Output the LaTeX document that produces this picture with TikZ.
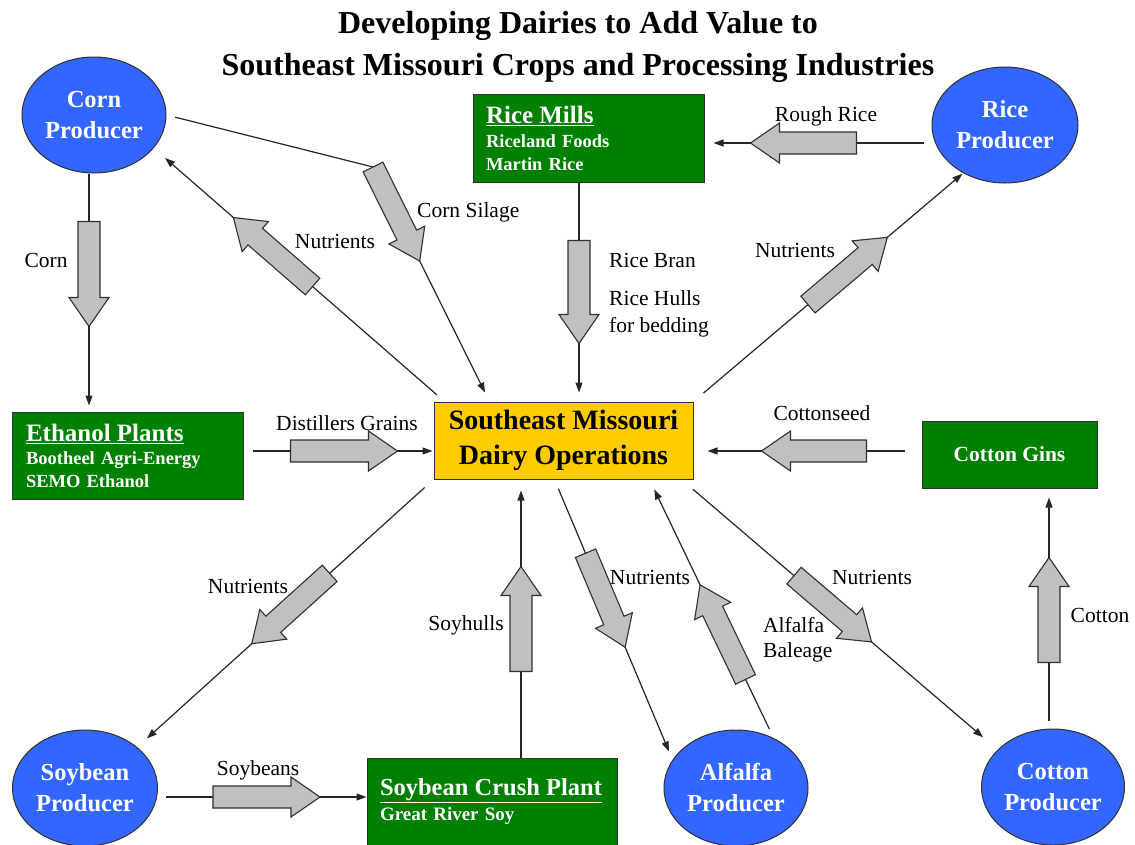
\documentclass[tikz,border=0pt]{standalone}
\usepackage{fontspec}
\setmainfont{Liberation Serif}
\usetikzlibrary{calc,arrows.meta,shapes.geometric}
\definecolor{ellblue}{HTML}{3366FF}
\definecolor{boxgreen}{HTML}{008000}
\definecolor{dairyyel}{HTML}{FFCC00}
\definecolor{arrgray}{HTML}{C0C0C0}
\definecolor{edge}{HTML}{303030}
\newcommand{\myblk}[4]{%
  \coordinate (bt) at ($(#1)!#3!(#2)$);
  \coordinate (bh) at ($(#1)!#4!(#2)$);
  \coordinate (bn) at ($(bh)!29pt!(bt)$);
  \path[blockarrow] ($(bt)!11pt!90:(bh)$) -- ($(bn)!11pt!90:(bh)$) -- ($(bn)!20pt!90:(bh)$) -- (bh)
     -- ($(bn)!20pt!-90:(bh)$) -- ($(bn)!11pt!-90:(bh)$) -- ($(bt)!11pt!-90:(bh)$) -- cycle;
}
\begin{document}
\begin{tikzpicture}[x=1pt,y=-1pt,
  producer/.style={ellipse, draw=edge, line width=1pt, fill=ellblue, inner sep=0pt,
    minimum width=144pt, minimum height=116pt, text=white, align=center,
    font={\fontsize{24.5}{31}\selectfont\bfseries}},
  gbox/.style={rectangle, draw=edge, line width=1pt, fill=boxgreen, text=white,
    align=left, font={\fontsize{18.5}{23}\selectfont\bfseries}},
  conn/.style={draw=black!85, line width=1.2pt, -{Triangle[length=10pt,width=7pt]}},
  blockarrow/.style={fill=arrgray, draw=edge, line width=1.1pt, line join=miter},
  lbl/.style={inner sep=0pt, font={\fontsize{21.5}{27}\selectfont}}]
\fill[white] (0,0) rectangle (1135,844);
\useasboundingbox (0,0) rectangle (1135,844);

% title
\node[align=center, font={\fontsize{32}{42}\selectfont\bfseries}] (title) at (578,47)
  {Developing Dairies to Add Value to\\Southeast Missouri Crops and Processing Industries};

% producers
\node[producer] (corn) at (94,115) {Corn\\Producer};
\node[producer, minimum width=146pt] (ricep) at (1005,125) {Rice\\Producer};
\node[producer, minimum width=145pt] (soyp) at (85,788) {Soybean\\Producer};
\node[producer] (alfp) at (736,788) {Alfalfa\\Producer};
\node[producer, minimum width=143pt] (cotp) at (1053,787) {Cotton\\Producer};

% boxes
\node[gbox, minimum height=88pt, inner xsep=13pt, text width=205pt] (mills) at (588.5,138)
  {{\fontsize{25}{25}\selectfont\underline{Rice Mills}}\\[1pt]Riceland Foods\\Martin Rice};
\node[gbox, minimum height=87pt, inner xsep=14pt, text width=203pt] (eth) at (127.5,455.5)
  {{\fontsize{25}{25}\selectfont\underline{Ethanol Plants}}\\[0pt]Bootheel Agri-Energy\\SEMO Ethanol};
\node[gbox, minimum height=88pt, inner xsep=13pt, text width=224pt] (crush) at (492,802)
  {{\fontsize{24.5}{25}\selectfont\underline{Soybean Crush Plant}}\\[2pt]{\fontsize{19}{23}\selectfont Great River Soy}};
\node[gbox, minimum width=175pt, minimum height=67pt, align=center,
  font={\fontsize{21.5}{25}\selectfont\bfseries}] (gins) at (1009.5,454.5) {Cotton Gins};
\node[rectangle, draw=edge, line width=1pt, fill=dairyyel, minimum width=259pt, minimum height=77pt,
  inner sep=0pt, align=center, font={\fontsize{28}{35}\selectfont\bfseries}] (dairy) at (563.5,440.5)
  {Southeast Missouri\\Dairy Operations};

% C1 corn -> ethanol
\coordinate (c1s) at ([xshift=-5pt]corn.south);
\coordinate (c1e) at (c1s |- eth.north);
\draw[conn, shorten >=6pt] (c1s) -- (c1e);
\myblk{c1s}{c1e}{48pt}{153pt}

% C2 corn silage
\coordinate (c2b) at (373,167);
\coordinate (c2e) at ([xshift=56pt]dairy.north west);
\draw[conn, shorten <=9pt, shorten >=10pt] (corn.east) -- (c2b) -- (c2e);
\myblk{c2b}{c2e}{0pt}{105pt}

% C3 nutrients to corn
\coordinate (c3s) at ([xshift=11pt]dairy.north west);
\draw[conn, shorten <=10pt, shorten >=15pt] (c3s) -- (corn.-29);
\myblk{c3s}{corn.-29}{175pt}{280pt}

% C4 rice mills -> dairy
\coordinate (c4s) at ([xshift=-9.5pt]mills.south);
\coordinate (c4e) at (c4s |- dairy.north);
\draw[conn, shorten >=9pt] (c4s) -- (c4e);
\myblk{c4s}{c4e}{58pt}{161pt}

% C5 rice producer -> mills
\coordinate (c5s) at ([yshift=-18pt]ricep.west);
\coordinate (c5e) at (c5s -| mills.east);
\draw[conn, shorten <=8pt, shorten >=9pt] (c5s) -- (c5e);
\myblk{c5s}{c5e}{75pt}{181pt}

% C6 nutrients to rice producer
\draw[conn, shorten <=13pt, shorten >=1pt] (dairy.north east) -- (ricep.-131);
\myblk{dairy.north east}{ricep.-131}{150pt}{254pt}

% C7 ethanol -> dairy
\coordinate (c7s) at ([yshift=4.5pt]eth.east);
\coordinate (c7e) at (c7s -| dairy.west);
\draw[conn, shorten <=9pt, shorten >=1pt] (c7s) -- (c7e);
\myblk{c7s}{c7e}{47pt}{154pt}

% C8 gins -> dairy
\coordinate (c8s) at ([yshift=3.5pt]gins.west);
\coordinate (c8e) at (c8s -| dairy.east);
\draw[conn, shorten <=17pt, shorten >=14pt] (c8s) -- (c8e);
\myblk{c8s}{c8e}{55pt}{160pt}

% C9 cotton producer -> gins
\coordinate (c9s) at ([xshift=-4pt]cotp.north);
\coordinate (c9e) at (c9s |- gins.south);
\draw[conn, shorten <=8pt, shorten >=9pt] (c9s) -- (c9e);
\myblk{c9s}{c9e}{66pt}{171pt}

% C10 nutrients to soybean producer
\draw[conn, shorten <=12pt, shorten >=13pt] (dairy.south west) -- (soyp.38);
\myblk{dairy.south west}{soyp.38}{140pt}{245pt}

% C11 soybean producer -> crush
\coordinate (c11s) at ([yshift=-9pt]soyp.east);
\coordinate (c11e) at (c11s -| crush.west);
\draw[conn, shorten <=8pt] (c11s) -- (c11e);
\myblk{c11s}{c11e}{55pt}{162pt}

% C12 crush -> dairy
\coordinate (c12s) at ([xshift=29pt]crush.north);
\coordinate (c12e) at (c12s |- dairy.south);
\draw[conn, shorten >=11pt] (c12s) -- (c12e);
\myblk{c12s}{c12e}{86pt}{191pt}

% C13 nutrients to alfalfa
\coordinate (c13s) at ([xshift=121pt]dairy.south west);
\draw[conn, shorten <=10pt, shorten >=9pt] (c13s) -- (alfp.156);
\myblk{c13s}{alfp.156}{80pt}{182pt}

% C14 alfalfa -> dairy
\coordinate (c14e) at ([xshift=216pt]dairy.south west);
\draw[conn, shorten <=10pt, shorten >=11pt] (alfp.53) -- (c14e);
\myblk{alfp.53}{c14e}{65pt}{170pt}

% C15 nutrients to cotton producer
\coordinate (c15s) at ([xshift=-12pt]dairy.south east);
\draw[conn, shorten <=15pt, shorten >=19pt] (c15s) -- (cotp.146);
\myblk{c15s}{cotp.146}{148pt}{250pt}

% labels
\node[lbl] (lcorn) at (46,260) {Corn};
\node[lbl, anchor=west] (lsilage) at (417,212) {Corn Silage};
\node[lbl] (lnut1) at (335,241) {Nutrients};
\node[lbl, anchor=west] (lbran) at (609,260) {Rice Bran};
\node[lbl, anchor=west, align=left] (lhulls) at (609,313.5) {Rice Hulls\\for bedding};
\node[lbl] (lrough) at (826,116) {Rough Rice};
\node[lbl] (lnut2) at (795,250) {Nutrients};
\node[lbl] (ldist) at (347,423) {Distillers Grains};
\node[lbl] (lcseed) at (822,413) {Cottonseed};
\node[lbl] (lcotton) at (1100,615) {Cotton};
\node[lbl] (lnut3) at (248,586) {Nutrients};
\node[lbl] (lsoyb) at (258,770) {Soybeans};
\node[lbl] (lsoyh) at (466,625) {Soyhulls};
\node[lbl] (lnut4) at (650,577) {Nutrients};
\node[lbl, anchor=west, align=left, font={\fontsize{21.5}{25}\selectfont}] (lalf) at (763,640) {Alfalfa\\Baleage};
\node[lbl] (lnut5) at (872,577) {Nutrients};
\end{tikzpicture}
\end{document}
